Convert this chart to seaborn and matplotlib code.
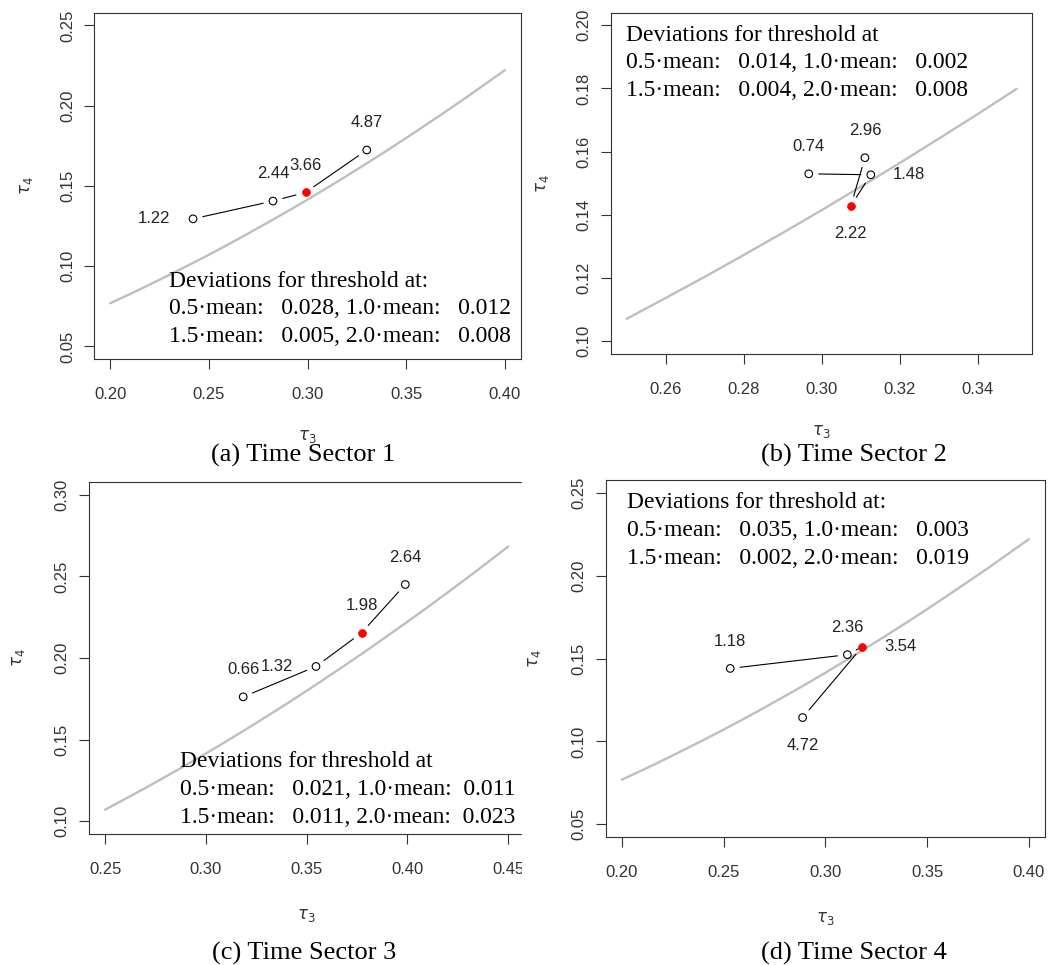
import matplotlib
matplotlib.use("Agg")
import matplotlib.pyplot as plt
import seaborn as sns
from matplotlib.transforms import Bbox, TransformedBbox

# ---------------------------------------------------------------------------
# Data
# ---------------------------------------------------------------------------
# Theoretical tau3 -> tau4 relation of the generalized Pareto distribution
curve_tau3 = [0.20, 0.21, 0.22, 0.23, 0.24, 0.25, 0.26, 0.27, 0.28, 0.29,
              0.30, 0.31, 0.32, 0.33, 0.34, 0.35, 0.36, 0.37, 0.38, 0.39,
              0.40, 0.41, 0.42, 0.43, 0.44, 0.45]
curve_tau4 = [0.0769, 0.0826, 0.0885, 0.0946, 0.1008, 0.1071, 0.1137, 0.1204,
              0.1273, 0.1343, 0.1415, 0.1489, 0.1564, 0.1641, 0.1719, 0.1799,
              0.1881, 0.1964, 0.2048, 0.2135, 0.2222, 0.2311, 0.2402, 0.2494,
              0.2588, 0.2683]

mean_multipliers = [0.5, 1.0, 1.5, 2.0]
selected = 2  # threshold highlighted in red (1.5 * mean)

thresholds_1 = [1.22, 2.44, 3.66, 4.87]
tau3_1 = [0.242, 0.2825, 0.299, 0.330]
tau4_1 = [0.1295, 0.1406, 0.1460, 0.1724]
dev_1 = [0.028, 0.012, 0.005, 0.008]

thresholds_2 = [0.74, 1.48, 2.22, 2.96]
tau3_2 = [0.2967, 0.3126, 0.3075, 0.3111]
tau4_2 = [0.1530, 0.1527, 0.1429, 0.1581]
dev_2 = [0.014, 0.002, 0.004, 0.008]

thresholds_3 = [0.66, 1.32, 1.98, 2.64]
tau3_3 = [0.3185, 0.3546, 0.3772, 0.3989]
tau4_3 = [0.1762, 0.1948, 0.2154, 0.2450]
dev_3 = [0.021, 0.011, 0.011, 0.023]

thresholds_4 = [1.18, 2.36, 3.54, 4.72]
tau3_4 = [0.2532, 0.3108, 0.3182, 0.2888]
tau4_4 = [0.1441, 0.1524, 0.1573, 0.1144]
dev_4 = [0.035, 0.003, 0.002, 0.019]

captions = ["(a) Time Sector 1", "(b) Time Sector 2",
            "(c) Time Sector 3", "(d) Time Sector 4"]
headings = ["Deviations for threshold at:", "Deviations for threshold at",
            "Deviations for threshold at", "Deviations for threshold at:"]

x_ranges = [(0.20, 0.40), (0.25, 0.35), (0.25, 0.45), (0.20, 0.40)]
y_ranges = [(0.05, 0.25), (0.10, 0.20), (0.10, 0.30), (0.05, 0.25)]
x_ticks = [[0.20, 0.25, 0.30, 0.35, 0.40],
           [0.26, 0.28, 0.30, 0.32, 0.34],
           [0.25, 0.30, 0.35, 0.40, 0.45],
           [0.20, 0.25, 0.30, 0.35, 0.40]]
y_ticks = [[0.05, 0.10, 0.15, 0.20, 0.25],
           [0.10, 0.12, 0.14, 0.16, 0.18, 0.20],
           [0.10, 0.15, 0.20, 0.25, 0.30],
           [0.05, 0.10, 0.15, 0.20, 0.25]]

# ---------------------------------------------------------------------------
# Layout / style
# ---------------------------------------------------------------------------
axes_rects = [[0.0900, 0.6277, 0.4069, 0.3592],
              [0.5830, 0.6332, 0.4020, 0.3537],
              [0.0849, 0.1354, 0.4155, 0.3655],
              [0.5780, 0.1323, 0.4192, 0.3703]]
caption_xy = [(0.2891, 0.5285), (0.8149, 0.5285), (0.2901, 0.0124), (0.8149, 0.0124)]
text_x = [0.176, 0.0363, 0.209, 0.0492]
text_y = [[0.2086, 0.1292, 0.050], [0.918, 0.837, 0.756],
          [0.190, 0.111, 0.033], [0.921, 0.843, 0.766]]
gaps = [("   ", "   "), ("   ", "   "), ("   ", "  "), ("   ", "   ")]
label_pos = [["left", "above", "above", "above"],
             ["above", "right", "below", "above"],
             ["above", "left", "above", "above"],
             ["above", "above", "right", "below"]]
xlabel_y = [-0.223, -0.228, -0.229, -0.227]
ylabel_x = [-0.158, -0.163, -0.162, -0.163]

offsets = {"above": ((0, 19.5), "center", "center"),
           "below": ((0, -20.0), "center", "center"),
           "left": ((-16.5, 0), "right", "center"),
           "right": ((16.0, 0), "left", "center")}

sns.set_style("white")
plt.rcParams["font.family"] = ["Liberation Sans", "DejaVu Sans"]
plt.rcParams["mathtext.fontset"] = "dejavusans"

AX_COL = "#333333"
SERIF = ["Liberation Serif", "DejaVu Serif"]

fig = plt.figure(figsize=(10.48, 9.65), dpi=100)
fig.patch.set_facecolor("white")

panels = [(thresholds_1, tau3_1, tau4_1, dev_1),
          (thresholds_2, tau3_2, tau4_2, dev_2),
          (thresholds_3, tau3_3, tau4_3, dev_3),
          (thresholds_4, tau3_4, tau4_4, dev_4)]

axes = []
for i, (thr, t3, t4, dev) in enumerate(panels):
    ax = fig.add_axes(axes_rects[i])
    axes.append(ax)
    x0, x1 = x_ranges[i]
    y0, y1 = y_ranges[i]

    # theoretical curve over the plotted tau3 range
    cx = [x for x in curve_tau3 if x0 - 1e-9 <= x <= x1 + 1e-9]
    cy = [y for x, y in zip(curve_tau3, curve_tau4) if x0 - 1e-9 <= x <= x1 + 1e-9]
    sns.lineplot(x=cx, y=cy, ax=ax, color="#bebebe", linewidth=1.7, sort=False)

    # connecting segments with gaps around the points
    for k in range(len(t3) - 1):
        ax.annotate("", xy=(t3[k + 1], t4[k + 1]), xytext=(t3[k], t4[k]),
                    arrowprops=dict(arrowstyle="-", color="black", lw=0.8,
                                    shrinkA=7.2, shrinkB=7.2))

    # sample points
    others = [k for k in range(len(t3)) if k != selected]
    sns.scatterplot(x=[t3[k] for k in others], y=[t4[k] for k in others], ax=ax,
                    s=30, facecolor="none", edgecolor="black", linewidth=0.8,
                    zorder=4)
    sns.scatterplot(x=[t3[selected]], y=[t4[selected]], ax=ax, s=32,
                    color="#ff0000", edgecolor="#ff0000", linewidth=0.5, zorder=5)

    # threshold labels
    for k, v in enumerate(thr):
        off, ha, va = offsets[label_pos[i][k]]
        ax.annotate(f"{v:.2f}", xy=(t3[k], t4[k]), xytext=off,
                    textcoords="offset points", ha=ha, va=va,
                    fontsize=12, color="#222222")

    # deviation summary
    g1, g2 = gaps[i]
    lines = [headings[i],
             f"{mean_multipliers[0]:.1f}\u00b7mean:{g1}{dev[0]:.3f}, "
             f"{mean_multipliers[1]:.1f}\u00b7mean:{g2}{dev[1]:.3f}",
             f"{mean_multipliers[2]:.1f}\u00b7mean:{g1}{dev[2]:.3f}, "
             f"{mean_multipliers[3]:.1f}\u00b7mean:{g2}{dev[3]:.3f}"]
    for line, yy in zip(lines, text_y[i]):
        ax.text(text_x[i], yy, line, transform=ax.transAxes, ha="left",
                va="baseline", fontsize=17, family=SERIF, color="black")

    # axes styling
    px = 0.04 * (x1 - x0)
    py = 0.04 * (y1 - y0)
    ax.set_xlim(x0 - px, x1 + px)
    ax.set_ylim(y0 - py, y1 + py)
    ax.set_xticks(x_ticks[i])
    ax.set_yticks(y_ticks[i])
    ax.set_xticklabels([f"{t:.2f}" for t in x_ticks[i]])
    ax.set_yticklabels([f"{t:.2f}" for t in y_ticks[i]], rotation=90, va="center")
    ax.tick_params(axis="both", which="major", direction="out", length=7.2,
                   width=0.8, color=AX_COL, labelsize=12, labelcolor=AX_COL,
                   bottom=True, left=True)
    ax.tick_params(axis="x", pad=13)
    ax.tick_params(axis="y", pad=6.8)
    for sp in ax.spines.values():
        sp.set_color(AX_COL)
        sp.set_linewidth(0.8)
        sp.set_visible(True)
    ax.grid(False)

    ax.set_xlabel(r"$\tau_3$", fontsize=12, color=AX_COL)
    ax.set_ylabel(r"$\tau_4$", fontsize=12, color=AX_COL)
    ax.xaxis.set_label_coords(0.5, xlabel_y[i])
    ax.yaxis.set_label_coords(ylabel_x[i], 0.5)
    ax.xaxis.label.set_va("center")
    ax.yaxis.label.set_va("center")

    fig.text(caption_xy[i][0], caption_xy[i][1], captions[i], ha="center",
             va="center", fontsize=19, family=SERIF, color="black")

# the lower-left panel is cut at the column boundary
fig.canvas.draw()
ax_c = axes[2]
clip = TransformedBbox(Bbox.from_extents(0, 0, 522 / 1048, 0.52), fig.transFigure)
for lbl in ax_c.get_xticklabels():
    lbl.set_clip_box(clip)
    lbl.set_clip_on(True)
for sp in ax_c.spines.values():
    sp.set_clip_box(clip)
    sp.set_clip_on(True)
ax_c.spines["right"].set_visible(False)

fig.savefig("out.png", dpi=100, facecolor="white")
